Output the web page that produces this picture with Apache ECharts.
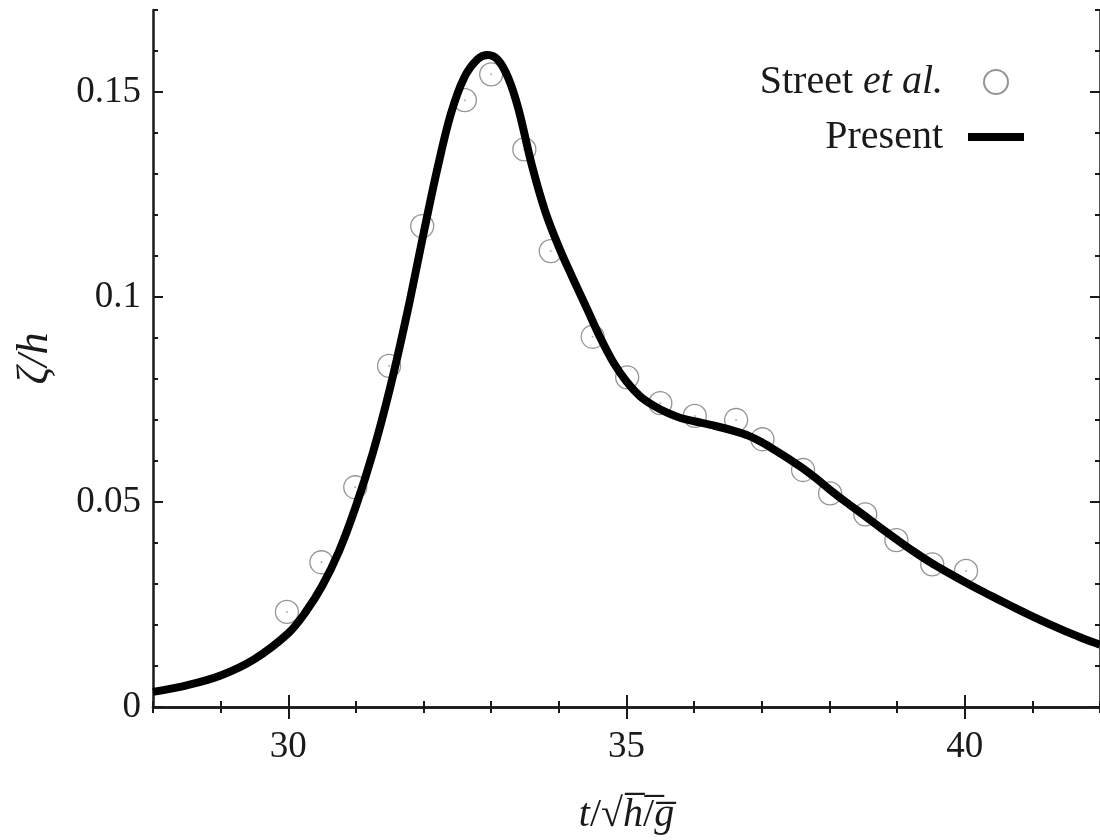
<!DOCTYPE html>
<html>
<head>
<meta charset="utf-8">
<script src="https://cdn.jsdelivr.net/npm/echarts@6/dist/echarts.min.js"></script>
<style>
  html, body { margin: 0; padding: 0; background: #fff; }
  #chart { width: 1100px; height: 840px; }
</style>
</head>
<body>
<div id="chart"></div>
<script>
// present computation
const presentT = [
  28.0, 28.5, 29.0, 29.5, 30.0, 30.25, 30.5, 30.75, 31.0, 31.25, 31.5, 31.75,
  32.0, 32.2, 32.4, 32.6, 32.8, 32.95, 33.1, 33.25, 33.4, 33.6, 33.8, 34.0,
  34.2, 34.4, 34.6, 34.8, 35.0, 35.2, 35.4, 35.6, 35.8, 36.0, 36.3, 36.6,
  36.8, 37.0, 37.2, 37.4, 37.6, 37.8, 38.0, 38.25, 38.5, 38.75, 39.0, 39.25,
  39.5, 39.75, 40.0, 40.25, 40.5, 40.75, 41.0, 41.25, 41.5, 41.75, 42.0
];
const presentZeta = [
  0.0037, 0.0053, 0.0077, 0.0117, 0.018, 0.023, 0.0295, 0.038, 0.049, 0.062, 0.0775, 0.0955,
  0.1155, 0.131, 0.1445, 0.1535, 0.158, 0.159, 0.1578, 0.1535, 0.146, 0.1322, 0.1208, 0.1122,
  0.1048, 0.0977, 0.0905, 0.0842, 0.0794, 0.0758, 0.0735, 0.0718, 0.0705, 0.0697, 0.0686, 0.0673,
  0.0662, 0.0646, 0.0626, 0.0605, 0.0583, 0.0558, 0.0531, 0.0499, 0.0469, 0.0438, 0.0408, 0.0379,
  0.0352, 0.0328, 0.0305, 0.0283, 0.0262, 0.0241, 0.0221, 0.0202, 0.0184, 0.0167, 0.0152
];

// Street et al. measurements
const streetT = [
  29.98, 30.49, 30.99, 31.49, 31.98, 32.61, 33.0, 33.49, 33.88, 34.5, 35.01,
  35.5, 36.01, 36.62, 37.01, 37.61, 38.01, 38.53, 38.99, 39.52, 40.02
];
const streetZeta = [
  0.0232, 0.0353, 0.0536, 0.0832, 0.1173, 0.148, 0.1543, 0.136, 0.1112, 0.0903, 0.0804,
  0.0741, 0.071, 0.070, 0.0653, 0.0578, 0.0521, 0.047, 0.0407, 0.0348, 0.0332
];

const xMin = 28, xMax = 42;
const yMin = 0, yMax = 0.17;
const xMajorTicks = [30, 35, 40];
const yMajorTicks = [0, 0.05, 0.1, 0.15];

const serif = "'Liberation Serif', 'DejaVu Serif', serif";
const ink = '#1a1a1a';

const chart = echarts.init(document.getElementById('chart'), null, { renderer: 'canvas' });

const gridBox = { left: 153, right: -3, top: 10, bottom: 133 };
const spine = { show: true, lineStyle: { color: ink, width: 2.5 } };

// minor axes (grid 0): short ticks, spines
function minorX(position) {
  return {
    type: 'value', gridIndex: 0, position: position,
    min: xMin, max: xMax, interval: 1,
    axisLine: spine,
    axisTick: { show: true, inside: true, length: 6, lineStyle: { color: ink, width: 2 } },
    axisLabel: { show: false },
    splitLine: { show: false }
  };
}
function minorY(position) {
  return {
    type: 'value', gridIndex: 0, position: position,
    min: yMin, max: yMax, interval: 0.01,
    axisLine: spine,
    axisTick: { show: true, inside: true, length: 5, lineStyle: { color: ink, width: 2 } },
    axisLabel: { show: false },
    splitLine: { show: false }
  };
}
// major axes (grid 1): long ticks + labels
function majorX(position, labels) {
  return {
    type: 'value', gridIndex: 1, position: position,
    min: xMin, max: xMax, interval: 1,
    axisLine: { show: false },
    axisTick: { show: true, inside: true, length: 12, customValues: xMajorTicks,
      lineStyle: { color: ink, width: 2 } },
    axisLabel: { show: labels, customValues: xMajorTicks, margin: 22,
      fontFamily: serif, fontSize: 37, color: ink },
    splitLine: { show: false }
  };
}
function majorY(position, labels) {
  return {
    type: 'value', gridIndex: 1, position: position,
    min: yMin, max: yMax, interval: 0.01,
    axisLine: { show: false },
    axisTick: { show: true, inside: true, length: 10, customValues: yMajorTicks,
      lineStyle: { color: ink, width: 2 } },
    axisLabel: { show: labels, customValues: yMajorTicks, margin: 12,
      fontFamily: serif, fontSize: 37, color: ink },
    splitLine: { show: false }
  };
}

const xBottom = majorX('bottom', true);
xBottom.name = '{i|t}{n|/√}{i|h̅}{n|/̅}{i|g̅}';
xBottom.nameLocation = 'middle';
xBottom.nameGap = 88;
xBottom.nameTextStyle = {
  rich: {
    i: { fontFamily: serif, fontStyle: 'italic', fontSize: 40, color: ink },
    n: { fontFamily: serif, fontSize: 40, color: ink }
  }
};

const yLeft = majorY('left', true);
yLeft.name = 'ζ/h';
yLeft.nameLocation = 'middle';
yLeft.nameGap = 96;
yLeft.nameTextStyle = { fontFamily: serif, fontStyle: 'italic', fontSize: 44, color: ink };

const option = {
  backgroundColor: '#ffffff',
  animation: false,
  grid: [Object.assign({}, gridBox), Object.assign({}, gridBox)],
  xAxis: [minorX('bottom'), minorX('top'), xBottom, majorX('top', false)],
  yAxis: [minorY('left'), minorY('right'), yLeft, majorY('right', false)],
  legend: {
    orient: 'vertical',
    right: 67,
    top: 57,
    align: 'right',
    itemWidth: 56,
    itemHeight: 24,
    itemGap: 15,
    selectedMode: false,
    data: [
      { name: 'Street et al.' },
      {
        name: 'Present',
        itemStyle: { color: 'rgba(0,0,0,0)', borderWidth: 0 },
        lineStyle: { color: '#000', width: 8 }
      }
    ],
    formatter: function (name) {
      return name === 'Present' ? '{p|Present}' : '{r|Street }{i|et al.}';
    },
    textStyle: {
      rich: {
        r: { fontFamily: serif, fontSize: 40, color: ink, lineHeight: 48 },
        i: { fontFamily: serif, fontSize: 40, fontStyle: 'italic', color: ink, lineHeight: 48, padding: [0, 20, 0, 0] },
        p: { fontFamily: serif, fontSize: 40, color: ink, lineHeight: 48, padding: [0, 20, 0, 0] }
      }
    }
  },
  series: [
    {
      name: 'Street et al.',
      type: 'scatter',
      xAxisIndex: 0, yAxisIndex: 0,
      symbol: 'circle',
      symbolSize: 23,
      itemStyle: { color: 'rgba(255,255,255,0)', borderColor: '#7a7a7a', borderWidth: 1.3 },
      data: streetT.map((t, i) => [t, streetZeta[i]]),
      z: 2
    },
    {
      name: 'centres',
      type: 'scatter',
      xAxisIndex: 0, yAxisIndex: 0,
      symbol: 'circle',
      symbolSize: 2,
      silent: true,
      itemStyle: { color: '#9a9a9a' },
      data: streetT.map((t, i) => [t, streetZeta[i]]),
      z: 2
    },
    {
      name: 'Present',
      type: 'line',
      xAxisIndex: 0, yAxisIndex: 0,
      symbol: 'none',
      showSymbol: false,
      smooth: 0.35,
      lineStyle: { color: '#000', width: 8 },
      itemStyle: { color: '#000' },
      data: presentT.map((t, i) => [t, presentZeta[i]]),
      z: 3
    }
  ]
};

chart.setOption(option);
</script>
</body>
</html>
